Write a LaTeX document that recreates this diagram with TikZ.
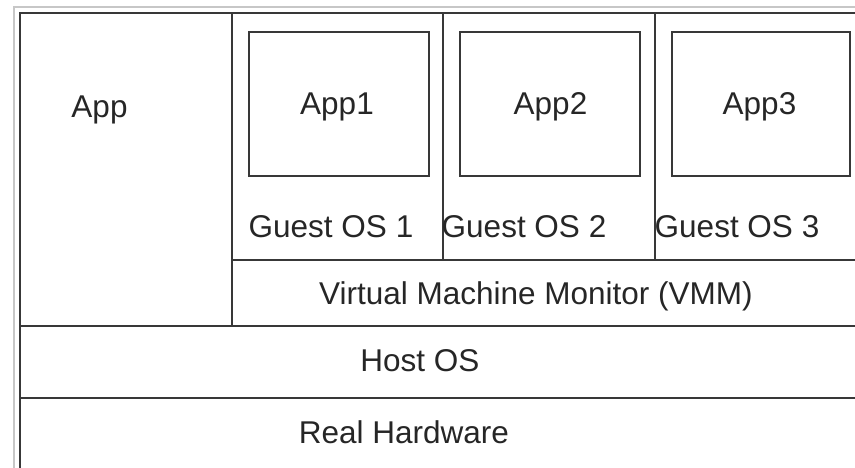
\documentclass[tikz,border=0pt]{standalone}
\usepackage{fontspec}
\setmainfont{Liberation Sans}
\usetikzlibrary{positioning}
\tikzset{
  layer/.style={rectangle, draw=black!78, line width=1.5pt, inner sep=0pt, outer sep=0pt, anchor=north west},
  guest/.style={layer, minimum width=211pt, minimum height=247pt},
  appbox/.style={layer, minimum width=180pt, minimum height=144pt},
  lbl/.style={anchor=base, inner sep=0pt, text=black!85, font=\fontsize{31.5}{36}\selectfont}
}

\begin{document}
\begin{tikzpicture}[x=1pt,y=-1pt]
    \useasboundingbox (0,0) rectangle (855,468);
    \clip (0,0) rectangle (855,468);
    % faint outer frame
    \draw[black!22, line width=1.5pt] (14,480) -- (14,7) -- (870,7);
    % host side
    \node[layer, minimum width=850pt, minimum height=82pt] (HW) at (20,398) {};
    \node[layer, minimum width=850pt, minimum height=72pt] (HOST) at (20,326) {};
    \node[layer, minimum width=212pt, minimum height=313pt] (APP) at (20,13) {};
    \node[layer, minimum width=638pt, minimum height=66pt] (VMM) at (232,260) {};
    % guests
    \node[guest] (G1) at (232,13) {};
    \node[guest, right=0pt of G1, minimum width=212pt] (G2) {};
    \node[guest, right=0pt of G2, minimum width=215pt] (G3) {};
    \node[appbox] (A1) at (249,32) {};
    \node[appbox] (A2) at (460,32) {};
    \node[appbox, minimum width=178pt] (A3) at (672,32) {};
    % labels
    \node[lbl] (appL) at (99.5,118) {App};
    \node[lbl] (a1L) at (337,115) {App1};
    \node[lbl] (a2L) at (550.5,115) {App2};
    \node[lbl] (a3L) at (759.5,115) {App3};
    \node[lbl] (g1L) at (331,238) {Guest OS 1};
    \node[lbl] (g2L) at (524,238) {Guest OS 2};
    \node[lbl] (g3L) at (737,238) {Guest OS 3};
    \node[lbl] (vmmL) at (536,304) {Virtual Machine Monitor (VMM)};
    \node[lbl] (hostL) at (420,371) {Host OS};
    \node[lbl] (hwL) at (404,443) {Real Hardware};
\end{tikzpicture}
\end{document}
